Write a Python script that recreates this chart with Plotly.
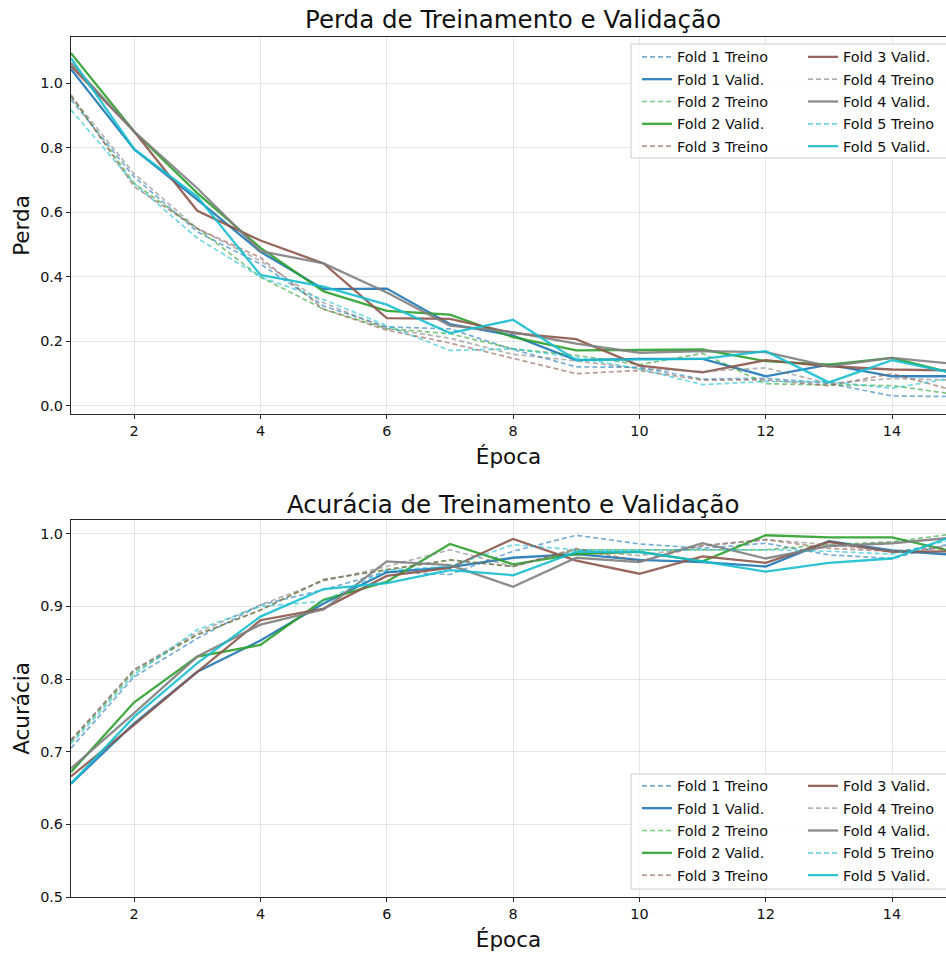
import plotly.graph_objects as go

# ---------------- data ----------------
epochs = list(range(1, 16))
fold_labels = ["Fold 1", "Fold 2", "Fold 3", "Fold 4", "Fold 5"]
x_tick_vals = [2, 4, 6, 8, 10, 12, 14]
loss_tick_vals = [0.0, 0.2, 0.4, 0.6, 0.8, 1.0]
acc_tick_vals = [0.5, 0.6, 0.7, 0.8, 0.9, 1.0]

# Loss (Perda) - training (dashed)
loss_train_f1 = [0.95, 0.71, 0.54, 0.44, 0.31, 0.245, 0.239, 0.175, 0.121, 0.120, 0.083, 0.086, 0.070, 0.031, 0.029]
loss_train_f2 = [0.96, 0.69, 0.55, 0.40, 0.30, 0.240, 0.224, 0.177, 0.157, 0.128, 0.163, 0.069, 0.065, 0.063, 0.036]
loss_train_f3 = [0.965, 0.68, 0.55, 0.46, 0.30, 0.235, 0.195, 0.147, 0.100, 0.110, 0.080, 0.081, 0.063, 0.100, 0.047]
loss_train_f4 = [0.96, 0.72, 0.55, 0.45, 0.32, 0.240, 0.210, 0.160, 0.140, 0.115, 0.107, 0.118, 0.070, 0.085, 0.080]
loss_train_f5 = [0.918, 0.69, 0.52, 0.40, 0.33, 0.249, 0.172, 0.177, 0.150, 0.115, 0.066, 0.076, 0.075, 0.055, 0.088]

# Loss (Perda) - validation (solid)
loss_val_f1 = [1.044, 0.796, 0.640, 0.478, 0.362, 0.364, 0.254, 0.218, 0.142, 0.146, 0.146, 0.092, 0.128, 0.092, 0.092]
loss_val_f2 = [1.094, 0.851, 0.660, 0.490, 0.355, 0.295, 0.283, 0.213, 0.172, 0.174, 0.175, 0.139, 0.128, 0.149, 0.100]
loss_val_f3 = [1.054, 0.851, 0.605, 0.513, 0.442, 0.272, 0.270, 0.226, 0.207, 0.125, 0.104, 0.142, 0.123, 0.113, 0.110]
loss_val_f4 = [1.063, 0.851, 0.675, 0.480, 0.442, 0.352, 0.249, 0.229, 0.193, 0.165, 0.170, 0.167, 0.123, 0.149, 0.130]
loss_val_f5 = [1.078, 0.796, 0.649, 0.406, 0.370, 0.314, 0.226, 0.267, 0.142, 0.144, 0.146, 0.170, 0.073, 0.142, 0.101]

# Accuracy (Acurácia) - training (dashed)
acc_train_f1 = [0.705, 0.803, 0.856, 0.902, 0.923, 0.948, 0.944, 0.976, 0.998, 0.986, 0.980, 0.987, 0.971, 0.966, 0.988]
acc_train_f2 = [0.714, 0.810, 0.861, 0.895, 0.937, 0.950, 0.964, 0.955, 0.978, 0.978, 0.978, 0.978, 0.985, 0.989, 1.000]
acc_train_f3 = [0.716, 0.813, 0.861, 0.895, 0.937, 0.950, 0.964, 0.955, 0.980, 0.962, 0.984, 0.992, 0.980, 0.976, 0.981]
acc_train_f4 = [0.716, 0.813, 0.864, 0.902, 0.935, 0.955, 0.978, 0.955, 0.978, 0.970, 0.983, 0.992, 0.985, 0.976, 0.984]
acc_train_f5 = [0.711, 0.806, 0.868, 0.900, 0.907, 0.950, 0.955, 0.985, 0.978, 0.978, 0.978, 0.978, 0.976, 0.972, 0.993]

# Accuracy (Acurácia) - validation (solid)
acc_val_f1 = [0.656, 0.739, 0.810, 0.853, 0.904, 0.947, 0.954, 0.967, 0.972, 0.964, 0.961, 0.955, 0.990, 0.977, 0.971]
acc_val_f2 = [0.672, 0.768, 0.831, 0.847, 0.909, 0.934, 0.986, 0.958, 0.972, 0.975, 0.962, 0.998, 0.995, 0.995, 0.975]
acc_val_f3 = [0.666, 0.737, 0.810, 0.881, 0.897, 0.942, 0.953, 0.993, 0.963, 0.945, 0.969, 0.960, 0.989, 0.975, 0.976]
acc_val_f4 = [0.677, 0.753, 0.831, 0.875, 0.896, 0.962, 0.957, 0.927, 0.967, 0.961, 0.987, 0.966, 0.983, 0.987, 0.995]
acc_val_f5 = [0.656, 0.748, 0.822, 0.886, 0.924, 0.932, 0.950, 0.943, 0.975, 0.975, 0.962, 0.948, 0.960, 0.966, 0.998]

loss_train = [loss_train_f1, loss_train_f2, loss_train_f3, loss_train_f4, loss_train_f5]
loss_val = [loss_val_f1, loss_val_f2, loss_val_f3, loss_val_f4, loss_val_f5]
acc_train = [acc_train_f1, acc_train_f2, acc_train_f3, acc_train_f4, acc_train_f5]
acc_val = [acc_val_f1, acc_val_f2, acc_val_f3, acc_val_f4, acc_val_f5]

# ---------------- style ----------------
fold_rgb = [(31, 119, 180), (44, 160, 44), (140, 86, 75), (127, 127, 127), (23, 190, 207)]
FONT = "DejaVu Sans"
W, H = 946, 954
ML, MR, MT, MB = 71, 0, 37, 57
PW = W - ML - MR
PH = H - MT - MB


def px2x(px):
    return (px - ML) / PW


def px2y(py):
    return (H - MB - py) / PH


def rgba(c, a):
    return "rgba(%d,%d,%d,%.2f)" % (c[0], c[1], c[2], a)


fig = go.Figure()

panels = [
    ("x", "y", loss_train, loss_val, ["legend", "legend2"]),
    ("x2", "y2", acc_train, acc_val, ["legend3", "legend4"]),
]

for xa, ya, trains, vals, legs in panels:
    entries = []
    for i in range(5):
        entries.append(("%s Treino" % fold_labels[i], trains[i], True, i))
        entries.append(("%s Valid." % fold_labels[i], vals[i], False, i))
    for k, (name, ys, dashed, i) in enumerate(entries):
        leg = legs[0] if k < 5 else legs[1]
        fig.add_trace(go.Scatter(
            x=epochs, y=ys, mode="lines", name=name,
            xaxis=xa, yaxis=ya, legend=leg,
            legendgroup="%s_%d" % (xa, k),
            line=dict(color=rgba(fold_rgb[i], 0.6 if dashed else 0.9),
                      width=1.7 if dashed else 2.3,
                      dash="5px,3px" if dashed else "solid"),
            showlegend=True,
        ))

axis_common = dict(
    showline=True, linecolor="#262626", linewidth=1.2,
    showgrid=True, gridcolor="rgba(200,200,200,0.45)", gridwidth=1,
    ticks="outside", ticklen=4, tickwidth=1, tickcolor="#262626",
    tickfont=dict(family=FONT, size=14.4, color="#111"),
    zeroline=False,
)

top_dom = [px2y(414), 1.0]
bot_dom = [0.0, px2y(520)]
x_range = [1, 14.855]
AX_TITLE_FONT = dict(size=21.5, family=FONT, color="#111")

fig.update_layout(
    width=W, height=H,
    margin=dict(l=ML, r=MR, t=MT, b=MB),
    paper_bgcolor="white", plot_bgcolor="white",
    font=dict(family=FONT, color="#111"),
    xaxis=dict(domain=[0, 1], anchor="y", range=x_range, tickvals=x_tick_vals,
               mirror=True,
               title=dict(text="Época", font=AX_TITLE_FONT, standoff=10),
               **axis_common),
    yaxis=dict(domain=top_dom, anchor="x", range=[-0.025, 1.144], tickvals=loss_tick_vals,
               tickformat=".1f",
               title=dict(text="Perda", font=AX_TITLE_FONT, standoff=4),
               **axis_common),
    xaxis2=dict(domain=[0, 1], anchor="y2", range=x_range, tickvals=x_tick_vals,
                mirror=True,
                title=dict(text="Época", font=AX_TITLE_FONT, standoff=10),
                **axis_common),
    yaxis2=dict(domain=bot_dom, anchor="x2", range=[0.5, 1.019], tickvals=acc_tick_vals,
                tickformat=".1f",
                title=dict(text="Acurácia", font=AX_TITLE_FONT, standoff=4),
                **axis_common),
    showlegend=True,
)

leg_common = dict(
    xanchor="left", yanchor="top", bgcolor="rgba(0,0,0,0)", borderwidth=0,
    font=dict(family=FONT, size=14.4, color="#111"),
    traceorder="grouped", tracegroupgap=0.6, orientation="v",
)
fig.update_layout(
    legend=dict(x=px2x(637), y=px2y(41), **leg_common),
    legend2=dict(x=px2x(803), y=px2y(41), **leg_common),
    legend3=dict(x=px2x(637), y=px2y(770), **leg_common),
    legend4=dict(x=px2x(803), y=px2y(770), **leg_common),
)

# legend frames
for (y0, y1) in [(44, 158), (774, 889)]:
    fig.add_shape(type="rect", xref="paper", yref="paper",
                  x0=px2x(631), x1=px2x(952), y0=px2y(y1), y1=px2y(y0),
                  line=dict(color="rgba(204,204,204,1)", width=1),
                  fillcolor="rgba(255,255,255,0.8)", layer="above")

# subplot titles
title_x = px2x(513)
TITLE_FONT = dict(family=FONT, size=24.5, color="#111")
fig.add_annotation(text="Perda de Treinamento e Validação", xref="paper", yref="paper",
                   x=title_x, y=px2y(20), xanchor="center", yanchor="middle", showarrow=False,
                   font=TITLE_FONT)
fig.add_annotation(text="Acurácia de Treinamento e Validação", xref="paper", yref="paper",
                   x=title_x, y=px2y(504), xanchor="center", yanchor="middle", showarrow=False,
                   font=TITLE_FONT)

fig.write_html(
    "out.html",
    config={"displayModeBar": False},
    post_script="document.body.style.margin='0px';document.body.style.overflow='hidden';",
)
